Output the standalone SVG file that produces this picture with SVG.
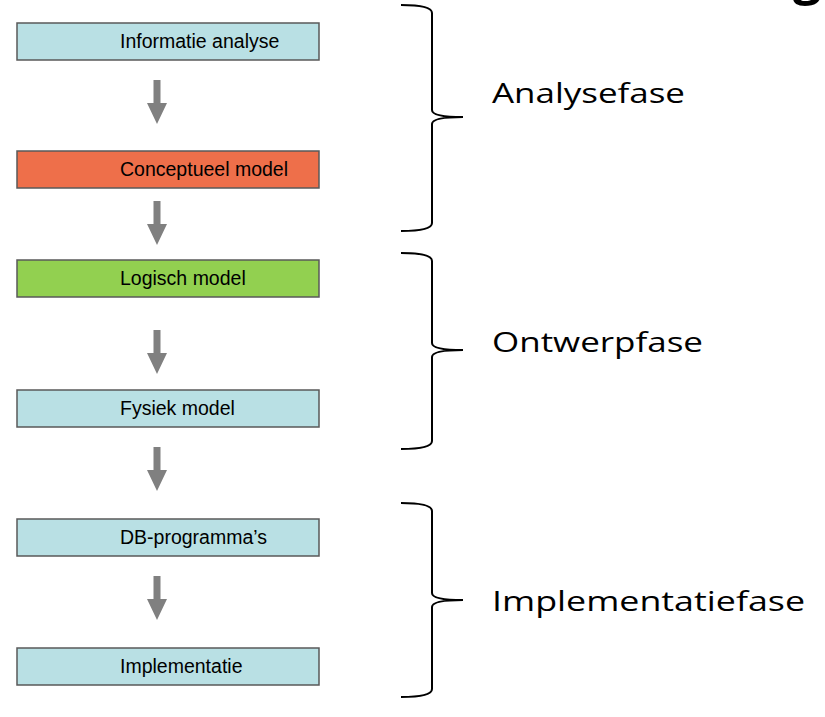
<svg xmlns="http://www.w3.org/2000/svg" width="825" height="717" viewBox="0 0 825 717">
<style>
.box{stroke:#595959;stroke-width:1.5}
.blue{fill:#b9e0e4}
.orange{fill:#ee6f4a}
.green{fill:#92d050}
.lbl{font-family:"Liberation Sans",Arial,sans-serif;font-size:19.5px;fill:#000}
.phase{font-family:"Open Sans","Noto Sans",sans-serif;font-size:28px;fill:#000}
.arrow{fill:#808080}
.brace{fill:none;stroke:#000;stroke-width:2}
</style>
<defs>
<path id="arr" d="M-3.5,0 H3.5 V23 H10 L0,44 L-10,23 H-3.5 Z"/>
</defs>
<rect width="825" height="717" fill="#fff"/>
<text x="793" y="-6" style="font-family:'Open Sans','Noto Sans',sans-serif;font-size:50px;font-weight:bold;fill:#000">g</text>
<g id="n1"><rect class="box blue" x="17" y="23" width="302" height="37"/><text class="lbl" x="120" y="48">Informatie analyse</text></g>
<g id="n2"><rect class="box orange" x="17" y="151" width="302" height="37"/><text class="lbl" x="120" y="176">Conceptueel model</text></g>
<g id="n3"><rect class="box green" x="17" y="260" width="302" height="37"/><text class="lbl" x="120" y="285">Logisch model</text></g>
<g id="n4"><rect class="box blue" x="17" y="390" width="302" height="37"/><text class="lbl" x="120" y="415">Fysiek model</text></g>
<g id="n5"><rect class="box blue" x="17" y="519" width="302" height="37"/><text class="lbl" x="120" y="544">DB-programma’s</text></g>
<g id="n6"><rect class="box blue" x="17" y="648" width="302" height="37"/><text class="lbl" x="120" y="673">Implementatie</text></g>
<g id="connectors">
<use href="#arr" class="arrow" x="157" y="80"/>
<use href="#arr" class="arrow" x="157" y="201"/>
<use href="#arr" class="arrow" x="157" y="330"/>
<use href="#arr" class="arrow" x="157" y="447"/>
<use href="#arr" class="arrow" x="157" y="576"/>
</g>
<g id="phase1"><path class="brace" d="M401,5 Q432,5 432,13 L432,110 Q432,117 463,117 Q432,117 432,124 L432,223 Q432,231 401,231"/><text class="phase" x="492" y="103" textLength="193" lengthAdjust="spacingAndGlyphs">Analysefase</text></g>
<g id="phase2"><path class="brace" d="M401,253 Q432,253 432,261 L432,343 Q432,350 463,350 Q432,350 432,357 L432,441 Q432,449 401,449"/><text class="phase" x="492" y="352" textLength="211" lengthAdjust="spacingAndGlyphs">Ontwerpfase</text></g>
<g id="phase3"><path class="brace" d="M401,503 Q432,503 432,511 L432,593 Q432,600 463,600 Q432,600 432,607 L432,689 Q432,697 401,697"/><text class="phase" x="492" y="611" textLength="313" lengthAdjust="spacingAndGlyphs">Implementatiefase</text></g>
</svg>
